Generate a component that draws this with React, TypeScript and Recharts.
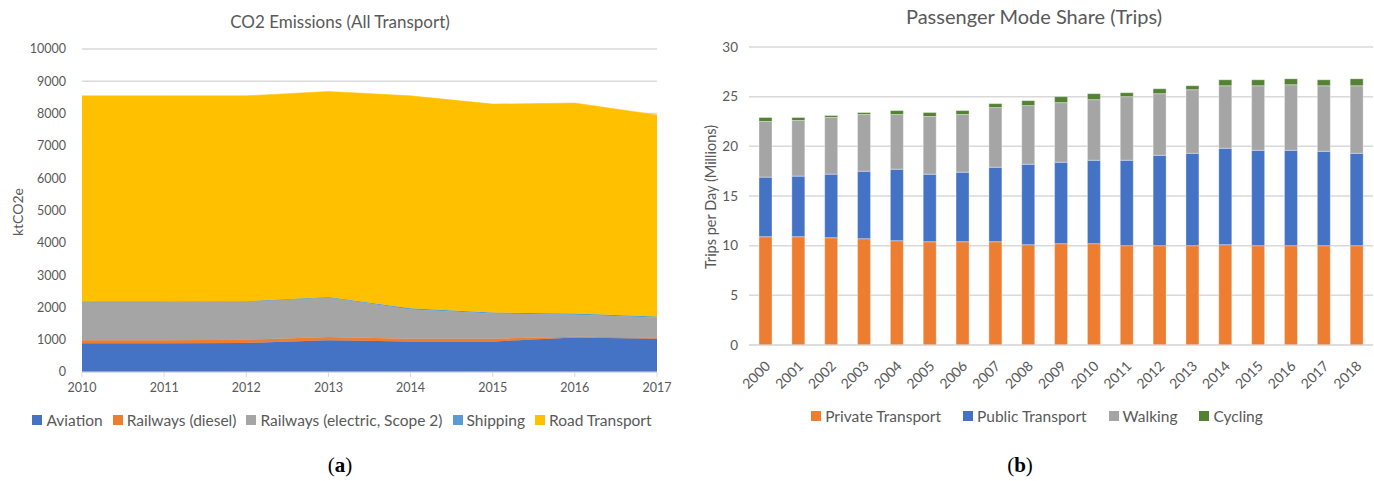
import React from 'react';
import {
    AreaChart,
    Area,
    BarChart,
    Bar,
    XAxis,
    YAxis,
    CartesianGrid
} from 'recharts';

// CO2 emissions (ktCO2e)
const emissionYears = ['2010', '2011', '2012', '2013', '2014', '2015', '2016', '2017'];
const aviation = [890, 890, 900, 985, 945, 945, 1065, 1030];
const railDiesel = [95, 95, 95, 100, 85, 85, 30, 40];
const railElectric = [1185, 1185, 1185, 1225, 905, 780, 675, 620];
const shipping = [10, 10, 10, 10, 40, 30, 40, 30];
const roadTransport = [6370, 6370, 6360, 6365, 6575, 6455, 6515, 6240];
const emissionTicks = [0, 1000, 2000, 3000, 4000, 5000, 6000, 7000, 8000, 9000, 10000];

// Passenger trips per day (millions)
const tripYears = ['2000', '2001', '2002', '2003', '2004', '2005', '2006', '2007', '2008', '2009',
    '2010', '2011', '2012', '2013', '2014', '2015', '2016', '2017', '2018'];
const privateTransport = [10.9, 10.9, 10.8, 10.7, 10.5, 10.4, 10.4, 10.4, 10.1, 10.2,
    10.2, 10.0, 10.0, 10.0, 10.1, 10.0, 10.0, 10.0, 10.0];
const publicTransport = [6.0, 6.1, 6.4, 6.8, 7.2, 6.8, 7.0, 7.5, 8.1, 8.2,
    8.4, 8.6, 9.1, 9.3, 9.7, 9.6, 9.6, 9.5, 9.3];
const walking = [5.6, 5.6, 5.7, 5.7, 5.5, 5.8, 5.8, 6.0, 5.9, 6.0,
    6.1, 6.4, 6.2, 6.4, 6.3, 6.5, 6.6, 6.6, 6.8];
const cycling = [0.4, 0.3, 0.2, 0.2, 0.4, 0.4, 0.4, 0.4, 0.5, 0.6,
    0.6, 0.4, 0.5, 0.4, 0.6, 0.6, 0.6, 0.6, 0.7];
const tripTicks = [0, 5, 10, 15, 20, 25, 30];

const emissionSeries = [
    { key: 'aviation', name: 'Aviation', color: '#4472C4' },
    { key: 'railDiesel', name: 'Railways (diesel)', color: '#ED7D31' },
    { key: 'railElectric', name: 'Railways (electric, Scope 2)', color: '#A5A5A5' },
    { key: 'shipping', name: 'Shipping', color: '#5B9BD5' },
    { key: 'road', name: 'Road Transport', color: '#FFC000' }
];

const tripSeries = [
    { key: 'private', name: 'Private Transport', color: '#ED7D31' },
    { key: 'public', name: 'Public Transport', color: '#4472C4' },
    { key: 'walking', name: 'Walking', color: '#A5A5A5' },
    { key: 'cycling', name: 'Cycling', color: '#548235' }
];

const TEXT = '#595959';
const GRID = '#D9D9D9';
const FONT = 'Lato, "Open Sans", sans-serif';

const emissionData = emissionYears.map((year, i) => ({
    year,
    aviation: aviation[i],
    railDiesel: railDiesel[i],
    railElectric: railElectric[i],
    shipping: shipping[i],
    road: roadTransport[i]
}));

const tripData = tripYears.map((year, i) => ({
    year,
    private: privateTransport[i],
    public: publicTransport[i],
    walking: walking[i],
    cycling: cycling[i]
}));

function Legend({ items, center, top, gap }: { items: { name: string; color: string }[]; center: number; top: number; gap: number }) {
    return (
        <div style={{
            position: 'absolute', top, left: center - 400, width: 800,
            display: 'flex', justifyContent: 'center', gap, fontSize: 15.5, color: TEXT
        }}>
            {items.map((s) => (
                <div key={s.name} style={{ display: 'flex', alignItems: 'center', whiteSpace: 'nowrap' }}>
                    <span style={{ width: 10, height: 10, background: s.color, marginRight: 4, display: 'inline-block' }} />
                    {s.name}
                </div>
            ))}
        </div>
    );
}

const RotatedTick = (props: any) => {
    const { x, y, payload } = props;
    const ax = x + 2;
    const ay = y + 10;
    return (
        <text
            x={ax}
            y={ay}
            transform={`rotate(-45, ${ax}, ${ay})`}
            textAnchor="end"
            dominantBaseline="central"
            fill={TEXT}
            fontSize={14}
            fontFamily={FONT}
        >
            {payload.value}
        </text>
    );
};

export default function App() {
    const tick = { fontSize: 12.5, fill: TEXT, fontFamily: FONT };

    return (
        <div style={{ position: 'absolute', left: 0, top: 0, width: 1374, height: 481, background: '#fff', fontFamily: FONT }}>
            {/* (a) CO2 emissions */}
            <div style={{ position: 'absolute', top: 11, left: 140, width: 400, textAlign: 'center', fontSize: 17, color: TEXT }}>
                CO2 Emissions (All Transport)
            </div>
            <div style={{
                position: 'absolute', left: 17, top: 212, fontSize: 14, color: TEXT,
                transform: 'translate(-50%, -50%) rotate(-90deg)', whiteSpace: 'nowrap'
            }}>
                ktCO2e
            </div>
            <div style={{ position: 'absolute', left: 0, top: 0 }}>
                <AreaChart width={680} height={400} data={emissionData} margin={{ top: 49, right: 23, bottom: 0, left: 22 }}>
                    <CartesianGrid vertical={false} stroke={GRID} strokeWidth={1.5} />
                    <XAxis
                        dataKey="year"
                        height={28}
                        tick={tick}
                        stroke={GRID}
                        tickSize={5}
                        tickMargin={6}
                        interval={0}
                    />
                    <YAxis
                        width={60}
                        domain={[0, 10000]}
                        ticks={emissionTicks}
                        tick={tick}
                        axisLine={false}
                        tickLine={false}
                        tickMargin={10}
                        interval={0}
                    />
                    {emissionSeries.map((s) => (
                        <Area
                            key={s.key}
                            type="linear"
                            dataKey={s.key}
                            name={s.name}
                            stackId="co2"
                            stroke={s.color}
                            strokeWidth={0.5}
                            fill={s.color}
                            fillOpacity={1}
                            dot={false}
                            activeDot={false}
                            isAnimationActive={false}
                        />
                    ))}
                </AreaChart>
            </div>
            <Legend items={emissionSeries} center={342} top={411} gap={10} />
            <div style={{ position: 'absolute', left: 290, width: 100, top: 453, textAlign: 'center', fontSize: 21, fontFamily: '"Liberation Serif", serif', color: '#000' }}>
                (<b>a</b>)
            </div>

            {/* (b) Passenger mode share */}
            <div style={{ position: 'absolute', top: 4, left: 834, width: 400, textAlign: 'center', fontSize: 20, color: TEXT }}>
                Passenger Mode Share (Trips)
            </div>
            <div style={{
                position: 'absolute', left: 710, top: 197, fontSize: 14.5, color: TEXT,
                transform: 'translate(-50%, -50%) rotate(-90deg)', whiteSpace: 'nowrap'
            }}>
                Trips per Day (Millions)
            </div>
            <div style={{ position: 'absolute', left: 680, top: 0 }}>
                <BarChart width={694} height={400} data={tripData} margin={{ top: 47, right: 1, bottom: 10, left: 29 }}>
                    <CartesianGrid vertical={false} stroke={GRID} strokeWidth={1.5} />
                    <XAxis
                        dataKey="year"
                        height={45}
                        tick={<RotatedTick />}
                        stroke={GRID}
                        tickLine={false}
                        interval={0}
                    />
                    <YAxis
                        width={40}
                        domain={[0, 30]}
                        ticks={tripTicks}
                        tick={{ ...tick, fontSize: 13.5 }}
                        axisLine={false}
                        tickLine={false}
                        tickMargin={5}
                        interval={0}
                    />
                    {tripSeries.map((s) => (
                        <Bar
                            key={s.key}
                            dataKey={s.key}
                            name={s.name}
                            stackId="trips"
                            fill={s.color}
                            stroke="#ffffff"
                            strokeOpacity={0.6}
                            strokeWidth={0.6}
                            barSize={13}
                            isAnimationActive={false}
                        />
                    ))}
                </BarChart>
            </div>
            <Legend items={tripSeries} center={1037} top={407} gap={22} />
            <div style={{ position: 'absolute', left: 970, width: 100, top: 453, textAlign: 'center', fontSize: 21, fontFamily: '"Liberation Serif", serif', color: '#000' }}>
                (<b>b</b>)
            </div>
        </div>
    );
}
